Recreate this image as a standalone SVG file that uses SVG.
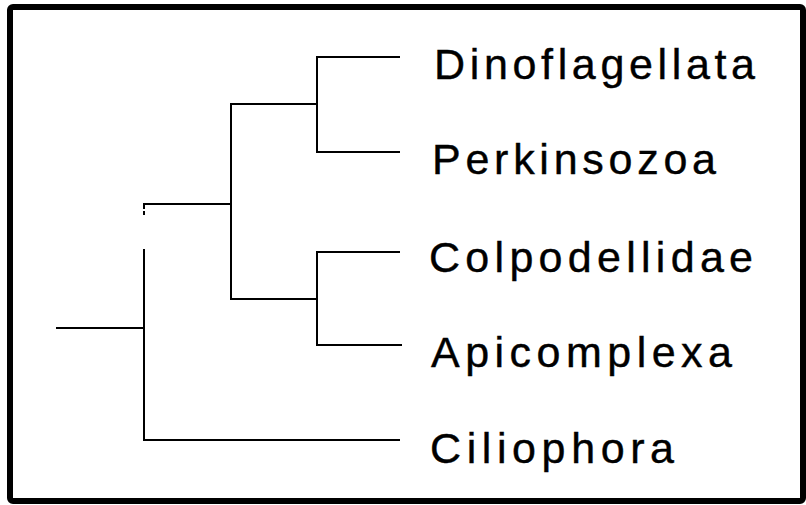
<svg xmlns="http://www.w3.org/2000/svg" width="806" height="505" viewBox="0 0 806 505">
<style>
.frame{fill:none;stroke:#000;stroke-width:6}
.br{fill:none;stroke:#000;stroke-width:2;stroke-linecap:square}
.lbl{font-family:"Liberation Sans",Arial,sans-serif;font-size:43px;fill:#000;stroke:#000;stroke-width:0.4}
</style>
<rect width="806" height="505" fill="#fff"/>
<rect class="frame" x="10" y="7" width="793" height="494" rx="3"/>
<g id="connectors">
<path class="br" d="M57 328 H144"/>
<path class="br" d="M144 204 V208 M144 212 V214 M144 250 V440 H399"/>
<path class="br" d="M144 204 H231"/>
<path class="br" d="M231 104 V299"/>
<path class="br" d="M231 104 H317"/>
<path class="br" d="M231 299 H317"/>
<path class="br" d="M317 57 V152"/>
<path class="br" d="M317 252 V345"/>
<path class="br" d="M317 57 H399"/>
<path class="br" d="M317 152 H399"/>
<path class="br" d="M317 252 H399"/>
<path class="br" d="M317 345 H401"/>
</g>
<g id="dinoflagellata"><text class="lbl" x="434" y="79" textLength="321" lengthAdjust="spacing">Dinoflagellata</text></g>
<g id="perkinsozoa"><text class="lbl" x="432" y="174" textLength="284" lengthAdjust="spacing">Perkinsozoa</text></g>
<g id="colpodellidae"><text class="lbl" x="429" y="272" textLength="324" lengthAdjust="spacing">Colpodellidae</text></g>
<g id="apicomplexa"><text class="lbl" x="431" y="367" textLength="301" lengthAdjust="spacing">Apicomplexa</text></g>
<g id="ciliophora"><text class="lbl" x="430" y="463" textLength="244" lengthAdjust="spacing">Ciliophora</text></g>
</svg>
